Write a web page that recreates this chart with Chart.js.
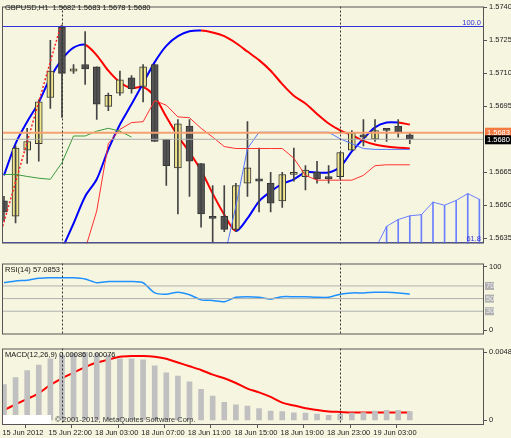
<!DOCTYPE html>
<html><head><meta charset="utf-8">
<script src="https://cdn.jsdelivr.net/npm/chart.js@4/dist/chart.umd.min.js"></script>
<style>
body{margin:0;background:#f6f6e0;width:511px;height:438px;overflow:hidden;position:relative}
canvas{position:absolute;left:0}
</style></head><body>
<canvas id="main" style="top:0"></canvas>
<canvas id="rsi" style="top:257px"></canvas>
<canvas id="macd" style="top:342px"></canvas>
<script>
// hourly GBPUSD candles, index 0 = 15 Jun 18:00
const opens  = [1.5652,1.5645,1.5675,1.5678,1.5699,1.5731,1.5711,1.5714,1.5713,1.5695,1.5701,1.5708,1.5704,1.5714,1.5680,1.5667,1.5686,1.5669,1.5645,1.5645,1.5639,1.5660,1.5662,1.5660,1.5652,1.5664,1.5663,1.5665,1.5663,1.5663,1.5675,1.5682,1.5680,1.5685,1.5686,1.5682];
const highs  = [1.5654,1.5677,1.5685,1.5698,1.5725,1.5732,1.5714,1.5729,1.5713,1.5701,1.5711,1.5709,1.5714,1.5714,1.5680,1.5689,1.5689,1.5669,1.5659,1.5659,1.5660,1.5688,1.5676,1.5665,1.5665,1.5676,1.5668,1.5670,1.5668,1.5674,1.5684,1.5689,1.5689,1.5685,1.5689,1.5683];
const lows   = [1.5643,1.5642,1.5669,1.5670,1.5694,1.5690,1.5710,1.5705,1.5689,1.5693,1.5700,1.5701,1.5697,1.5679,1.5659,1.5646,1.5654,1.5640,1.5633,1.5638,1.5638,1.5654,1.5647,1.5647,1.5649,1.5661,1.5657,1.5660,1.5660,1.5662,1.5675,1.5677,1.5679,1.5679,1.5681,1.5678];
const closes = [1.5647,1.5676,1.5679,1.5697,1.5711,1.5710,1.5712,1.5712,1.5696,1.5700,1.5707,1.5703,1.5713,1.5679,1.5668,1.5687,1.5670,1.5646,1.5644,1.5639,1.5659,1.5667,1.5661,1.5651,1.5664,1.5665,1.5666,1.5662,1.5662,1.5674,1.5683,1.5681,1.5684,1.5684,1.5683,1.5680];

const fastMa = [1.56636,1.5678,1.5688,1.56968,1.57081,1.57164,1.57217,1.5723,1.57182,1.57112,1.57059,1.57033,1.57038,1.56994,1.56902,1.56815,1.56741,1.56658,1.56553,1.56457,1.56383,1.5644,1.56518,1.56562,1.56597,1.56618,1.56649,1.56649,1.56649,1.56675,1.56745,1.56802,1.56854,1.56876,1.56876,1.56867];
const slowMa = [null,null,null,null,null,1.5630,1.56417,1.5654,1.56618,1.56754,1.56867,1.56959,1.57055,1.57151,1.57225,1.57269,1.57291,1.57295,1.57286,1.57269,1.57238,1.57199,1.5716,1.57112,1.57051,1.56998,1.56963,1.56915,1.56872,1.56841,1.56819,1.56793,1.56776,1.56767,1.56762,1.56758];
const kijun  = [null,null,null,null,null,null,null,1.5630,1.56474,1.5678,1.56845,1.56876,1.5688,1.56976,1.56955,1.56902,1.56898,1.5685,1.5681,1.56767,1.56758,1.56758,1.56758,1.56758,1.56758,1.56714,1.56636,1.56614,1.56614,1.56614,1.56614,1.56636,1.5668,1.56684,1.56684,1.56684];
const tenkan = [null,null,null,null,null,null,null,null,null,null,null,null,null,null,null,null,null,null,null,1.5626,1.56496,1.56758,1.56832,1.56832,1.56832,1.56832,1.56832,1.56832,1.56832,1.56802,1.5678,1.56758,1.56754,1.56754,1.56754,1.56754];
const chikou = [1.5664,1.5664,1.56631,1.56623,1.56618,1.56693,1.56815,1.56815,1.56837,1.5685,1.56837,1.5681];
const cloudTop = [1.5630,1.56404,1.56435,1.56452,1.56457,1.56514,1.565,1.56522,1.56553,1.56527]; // index 32..41
const rsiVals = [75,78,79,82,83,83,83,81,75,77,77,77,75,59,57,60,56,48,47,45,52,53,52,49,53,53,53,52,52,57,59,59,60,60,59,57];
const macdHist = [0.00257,0.00308,0.00357,0.00397,0.00442,0.00469,0.00482,0.00489,0.00482,0.00469,0.00442,0.00442,0.00435,0.00391,0.00342,0.00317,0.00277,0.00223,0.00174,0.00129,0.00112,0.00103,0.00085,0.00067,0.00062,0.00054,0.00052,0.00045,0.00036,0.00045,0.00052,0.00056,0.00067,0.00072,0.00072,0.00062];
const macdSignal = [0.00074,0.00114,0.00154,0.00194,0.00255,0.00302,0.00342,0.00382,0.00415,0.00436,0.00456,0.00462,0.00462,0.00456,0.00442,0.00415,0.00389,0.00362,0.00328,0.00302,0.00268,0.00228,0.00201,0.00168,0.00127,0.00107,0.00087,0.00074,0.00064,0.0006,0.00056,0.00056,0.00056,0.00056,0.00056,0.00056];
const timeLabels = ['15 Jun 2012','15 Jun 22:00','18 Jun 03:00','18 Jun 07:00','18 Jun 11:00','18 Jun 15:00','18 Jun 19:00','18 Jun 23:00','19 Jun 03:00'];
const mainTicks = [1.5740,1.5725,1.5710,1.5695,1.5665,1.5650,1.5635];
const fib100 = 1.57313, fib618 = 1.5633, ask = 1.5683, bid = 1.5680;
const sepIdx = [5, 29];

const FONT = {family:'Liberation Sans', size:7.5};
Chart.defaults.font = FONT;
Chart.defaults.color = '#222';
Chart.defaults.animation = false;
const XMIN = -0.17, XMAX = 41.4;
const pts = arr => arr.map((v,i)=>({x:i,y:v}));
const flat = v => [{x:XMIN,y:v},{x:XMAX,y:v}];
const line = (data,color,w,extra={}) => Object.assign({type:'line',data,borderColor:color,borderWidth:w,pointRadius:0,fill:false,spanGaps:false},extra);

function frame(extra){
  return {id:'frame',
    beforeDraw(c){},
    afterDatasetsDraw(c){
      const a=c.chartArea, ctx=c.ctx, xs=c.scales.x;
      ctx.save();
      ctx.strokeStyle='#333';ctx.setLineDash([2,2]);ctx.lineWidth=1;
      sepIdx.forEach(i=>{const x=Math.round(xs.getPixelForValue(i))+0.5;ctx.beginPath();ctx.moveTo(x,a.top);ctx.lineTo(x,a.bottom);ctx.stroke();});
      ctx.setLineDash([]);
      ctx.strokeStyle='#555';
      ctx.strokeRect(a.left+0.5,a.top+0.5,a.right-a.left-1,a.bottom-a.top-1);
      if(extra) extra(c,ctx,a);
      ctx.restore();
    }};
}
function yRight(min,max,ticks,fmt){
  return {position:'right',min,max,
    afterFit:s=>{s.width=27;},
    afterBuildTicks:s=>{s.ticks=ticks.map(v=>({value:v}));},
    grid:{drawOnChartArea:false,tickLength:3,color:'#555'},border:{display:false},
    ticks:{padding:2,callback:fmt,color:'#222'}};
}
const xHidden = {type:'linear',min:XMIN,max:XMAX,display:false,offset:false};
const baseOpts = (pad)=>({responsive:false,maintainAspectRatio:false,layout:{padding:pad},
  plugins:{legend:{display:false},tooltip:{enabled:false}}});

function mk(id,w,h){const c=document.getElementById(id);c.width=w;c.height=h;c.style.width=w+'px';c.style.height=h+'px';return c;}

// main price panel
const bodyColors = opens.map((o,i)=>closes[i]>=o?'#f0e68c':'#555555');
new Chart(mk('main',511,250),{
  data:{datasets:[
    {type:'bar',data:cloudTop.map((v,k)=>({x:k+32,y:[1.5630,v]})),backgroundColor:'#6a7fff',barThickness:1,grouped:false},
    line(cloudTop.map((v,k)=>({x:k+32,y:v})),'#6a7fff',1),
    line(flat(fib100),'#3333dd',1),
    line(flat(fib618),'#3333dd',1),
    line(flat(ask),'#f4a070',2),
    line(flat(bid),'#aaaaaa',1),
    line(pts(chikou),'#3c9a3c',1),
    line(pts(kijun),'#ff3030',1),
    line(pts(tenkan),'#5577ff',1),
    line([{x:-0.2,y:1.56387},{x:4.9,y:1.57317}],'#ff2020',1.5,{borderDash:[2,2]}),
    {type:'bar',data:lows.map((l,i)=>({x:i,y:[l,highs[i]]})),backgroundColor:'#444',barThickness:1,grouped:false},
    {type:'bar',data:opens.map((o,i)=>({x:i,y:[o,closes[i]]})),backgroundColor:bodyColors,borderColor:'#333',borderWidth:1,borderSkipped:false,barThickness:7,minBarLength:2,grouped:false},
    line(pts(slowMa),'#0000ff',2,{tension:0.3,segment:{borderColor:s=>s.p0DataIndex>=17?'#ff0000':'#0000ff'}}),
    line(pts(fastMa),'#0000ff',2,{tension:0.3,segment:{borderColor:s=>{const i=s.p0DataIndex;return (i>=7&&i<20)||i>=34?'#ff0000':'#0000ff';}}})
  ]},
  options:Object.assign(baseOpts({left:2,top:2,bottom:1,right:0}),{
    scales:{x:xHidden,y:yRight(1.56326,1.57404,mainTicks,v=>v.toFixed(4))}}),
  plugins:[frame((c,ctx,a)=>{
    const y=c.scales.y;
    ctx.font='7.5px Liberation Sans';ctx.textBaseline='middle';
    ctx.fillStyle='#111';ctx.fillText('GBPUSD,H1  1.5682 1.5683 1.5678 1.5680',5,8);
    ctx.fillStyle='#3333dd';ctx.textAlign='right';
    ctx.fillText('100.0',a.right-3,y.getPixelForValue(fib100)-4);
    ctx.fillText('61.8',a.right-3,y.getPixelForValue(fib618)-4);
    ctx.textAlign='left';
    let py=y.getPixelForValue(ask);ctx.fillStyle='#f47a40';ctx.fillRect(a.right+1,py-5,27,9);ctx.fillStyle='#fff';ctx.fillText('1.5683',a.right+3,py);
    py=y.getPixelForValue(bid);ctx.fillStyle='#000';ctx.fillRect(a.right+1,py-4,27,9);ctx.fillStyle='#fff';ctx.fillText('1.5680',a.right+3,py+1);
  })]
});

// RSI panel
new Chart(mk('rsi',511,84),{
  data:{datasets:[
    line(flat(70),'#b0b0b0',1),line(flat(50),'#b0b0b0',1),line(flat(30),'#b0b0b0',1),
    line(pts(rsiVals),'#1e90ff',1.5,{tension:0.2})
  ]},
  options:Object.assign(baseOpts({left:2,top:1,bottom:1,right:0}),{
    scales:{x:xHidden,y:yRight(-6.8,105.5,[100,0],v=>String(v))}}),
  plugins:[frame((c,ctx,a)=>{
    const y=c.scales.y;
    ctx.font='7.5px Liberation Sans';ctx.textBaseline='middle';
    ctx.fillStyle='#111';ctx.fillText('RSI(14) 57.0853',5,a.top+6);
    [70,50,30].forEach(v=>{const py=y.getPixelForValue(v);ctx.fillStyle='#b0b0b0';ctx.fillRect(a.right+1,py-4,9,8);ctx.fillStyle='#eee';ctx.fillText(String(v),a.right+2,py);});
  })]
});

// MACD panel
new Chart(mk('macd',511,96),{
  data:{datasets:[
    {type:'bar',data:pts(macdHist),backgroundColor:'#c0c0c0',barThickness:5,grouped:false},
    line(pts(macdSignal),'#ff0000',2,{tension:0.3})
  ]},
  options:Object.assign(baseOpts({left:2,top:1,bottom:0,right:0}),{
    scales:{
      x:{type:'linear',min:XMIN,max:XMAX,offset:false,
        afterFit:s=>{s.height=13;},
        afterBuildTicks:s=>{s.ticks=timeLabels.map((t,k)=>({value:k*4-0.15}));},
        grid:{drawOnChartArea:false,tickLength:3,color:'#555'},border:{display:false},
        ticks:{maxRotation:0,autoSkip:false,align:'start',padding:0,color:'#222',callback:(v,k)=>timeLabels[k]}},
      y:yRight(-0.000335,0.00516,[0.00489,0],v=>v===0?'0':v.toFixed(5))}}),
  plugins:[frame((c,ctx,a)=>{
    ctx.font='7.5px Liberation Sans';ctx.textBaseline='middle';
    ctx.fillStyle='#111';ctx.fillText('MACD(12,26,9) 0.00086 0.00076',5,a.top+6);
    ctx.fillStyle='#fff';ctx.fillRect(3,a.bottom-10,48,9);
    ctx.fillStyle='#333';ctx.fillText('\u00a9 2001-2012, MetaQuotes Software Corp.',55,a.bottom-5);
  })]
});
</script></body></html>
